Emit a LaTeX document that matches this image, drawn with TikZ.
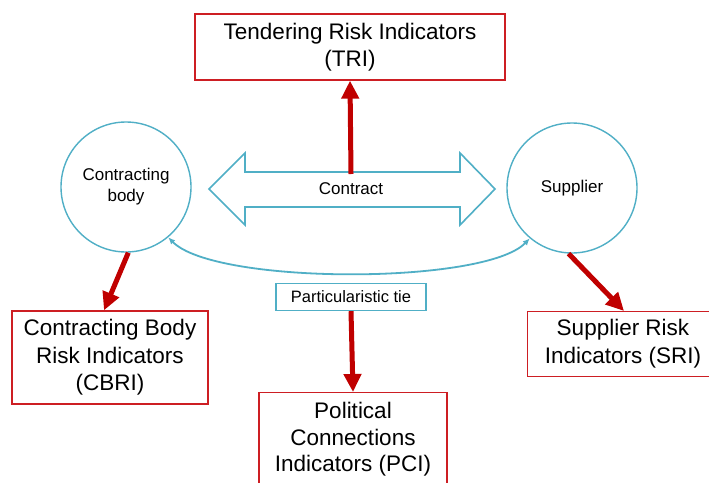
\documentclass[tikz,border=0pt]{standalone}
\usepackage{fontspec}
\setmainfont{Liberation Sans}
\usetikzlibrary{arrows.meta}
\definecolor{teal1}{RGB}{80,175,198}
\definecolor{boxred}{RGB}{205,30,35}
\definecolor{arrred}{RGB}{192,0,0}
\tikzset{
  x=1pt,y=-1pt,
  actor/.style={circle,draw=teal1,line width=1.4pt,minimum size=130pt,inner sep=0pt,align=center,
    font=\fontsize{17}{21}\selectfont},
  indbox/.style={draw=boxred,line width=1.3pt,inner sep=0pt,align=center,
    font=\fontsize{22.5}{27.5}\selectfont},
  redarrow/.style={draw=arrred,line width=5pt,-{Triangle[width=17pt,length=18pt]}},
  tiebox/.style={draw=teal1,line width=1.4pt,fill=white,minimum width=150pt,minimum height=27pt,inner sep=0pt,
    font=\fontsize{16.5}{20}\selectfont},
  tiearrow/.style={draw=teal1,line width=1.8pt,{Latex[length=7pt,width=6pt]}-{Latex[length=7pt,width=6pt]}},
  dblarrow/.style={draw=teal1,line width=1.6pt,fill=white,line join=miter}
}
\begin{document}
\begin{tikzpicture}
\clip (0,0) rectangle (709,482);
\fill[white] (0,0) rectangle (709,482);
% actors
\node[actor] (cb) at (126,187) {Contracting\\body};
\node[actor] (sup) at (572,188) {Supplier};
% contract double arrow
\draw[dblarrow] (209,189) -- (245,153) -- (245,172) -- (460,172) -- (460,153) -- (495,189)
  -- (460,225) -- (460,207) -- (245,207) -- (245,225) -- cycle;
\node[font=\fontsize{17}{21}\selectfont] (contract) at (351,189) {Contract};
\coordinate (ctop) at (351,174);
% indicator boxes
\node[indbox,minimum width=310pt,minimum height=66pt] (tri) at (350,47) {Tendering Risk Indicators\\(TRI)};
\node[indbox,minimum width=196pt,minimum height=93pt] (cbri) at (110,357.5) {Contracting Body\\Risk Indicators\\(CBRI)};
\node[indbox,minimum width=192pt,minimum height=65pt,anchor=north west] (sri) at (527,311) {};
\node[font=\fontsize{22.5}{27.5}\selectfont,align=center] (sritxt) at (623,343.5) {Supplier Risk\\Indicators (SRI)};
\node[indbox,minimum width=188pt,minimum height=110pt,anchor=north] (pci) at (353,392) {};
\node[font=\fontsize{22.5}{26.5}\selectfont,align=center,anchor=north] (pcitxt) at (353,399) {Political\\Connections\\Indicators (PCI)};
% particularistic tie
\draw[tiearrow] (cb.-50) .. controls (215,285) and (485,285) .. (sup.-130);
\node[tiebox] (tie) at (351,297) {Particularistic tie};
% red arrows
\draw[redarrow] (ctop) -- (tri.south);
\draw[redarrow] (cb.-88) -- (cbri.north -| 104,0);
\draw[redarrow] (sup.-93) -- (sri.north -| 624,0);
\draw[redarrow] (tie.south) -- (pci.north);
\end{tikzpicture}
\end{document}
